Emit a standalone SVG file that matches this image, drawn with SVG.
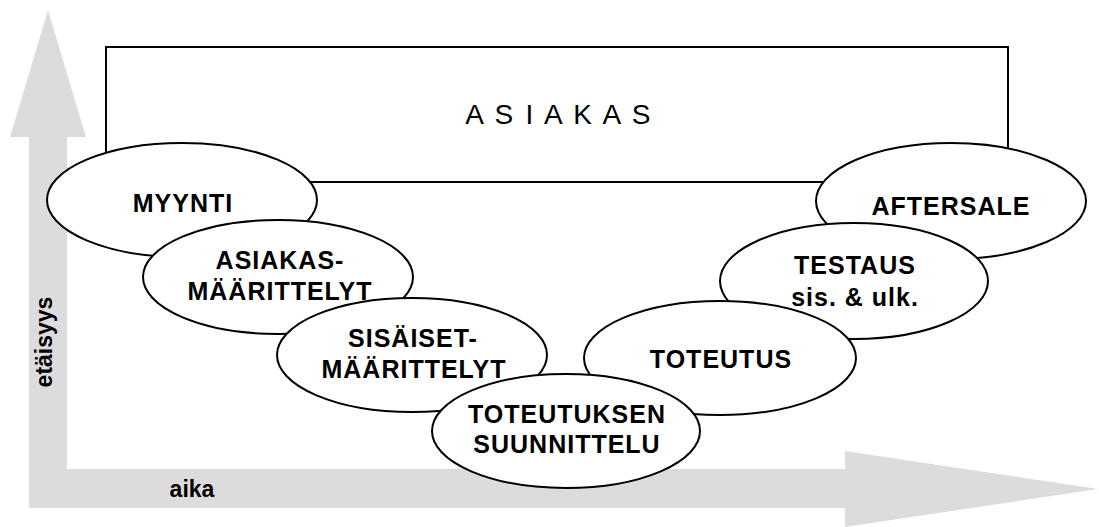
<svg xmlns="http://www.w3.org/2000/svg" width="1099" height="527" viewBox="0 0 1099 527">
  <style>
    .axis { fill: #dcdcdc; stroke: none; }
    .phase { fill: #ffffff; stroke: #000000; stroke-width: 2; }
    .frame { fill: #ffffff; stroke: #000000; stroke-width: 2; }
    .label { font-family: "Liberation Sans", Arial, sans-serif; font-weight: bold; font-size: 25px; letter-spacing: 1px; fill: #000000; text-anchor: middle; }
    .axislabel { font-family: "Liberation Sans", Arial, sans-serif; font-weight: bold; font-size: 23px; fill: #000000; text-anchor: middle; }
    .title { font-family: "Liberation Sans", Arial, sans-serif; font-size: 28px; letter-spacing: 2.2px; fill: #000000; text-anchor: middle; }
  </style>

  <rect width="1099" height="527" fill="#ffffff"/>

  <!-- axes: distance (up) and time (right) -->
  <g id="axes">
    <polygon class="axis" points="29,508 29,137 10,137 48,10 86,137 67,137 67,508"/>
    <polygon class="axis" points="67,469 845,469 845,451 1098,489 845,527 845,508 67,508"/>
    <text class="axislabel" x="192" y="497">aika</text>
    <text class="axislabel" transform="translate(52,342) rotate(-90)">etäisyys</text>
  </g>

  <g id="asiakas">
    <rect class="frame" x="106" y="47" width="902" height="135"/>
    <text class="title" x="559" y="124">A S I A K A S</text>
  </g>

  <g id="myynti">
    <ellipse class="phase" cx="182" cy="200" rx="135" ry="57"/>
    <text class="label" x="183" y="212">MYYNTI</text>
  </g>

  <g id="asiakasmaarittelyt">
    <ellipse class="phase" cx="278" cy="277" rx="135" ry="57"/>
    <text class="label" x="280" y="269">ASIAKAS-</text>
    <text class="label" x="280" y="300">MÄÄRITTELYT</text>
  </g>

  <g id="sisaisetmaarittelyt">
    <ellipse class="phase" cx="412" cy="355" rx="135" ry="57"/>
    <text class="label" x="413" y="347">SISÄISET-</text>
    <text class="label" x="414" y="378">MÄÄRITTELYT</text>
  </g>

  <g id="aftersale">
    <ellipse class="phase" cx="951" cy="201" rx="135" ry="58"/>
    <text class="label" x="951" y="215">AFTERSALE</text>
  </g>

  <g id="testaus">
    <ellipse class="phase" cx="854" cy="281" rx="134" ry="58"/>
    <text class="label" x="855" y="274">TESTAUS</text>
    <text class="label" x="855" y="306">sis. &amp; ulk.</text>
  </g>

  <g id="toteutus">
    <ellipse class="phase" cx="720" cy="358" rx="136" ry="57"/>
    <text class="label" x="721" y="368">TOTEUTUS</text>
  </g>

  <g id="toteutuksensuunnittelu">
    <ellipse class="phase" cx="566" cy="431" rx="134" ry="57"/>
    <text class="label" x="567" y="423">TOTEUTUKSEN</text>
    <text class="label" x="567" y="453">SUUNNITTELU</text>
  </g>
</svg>
